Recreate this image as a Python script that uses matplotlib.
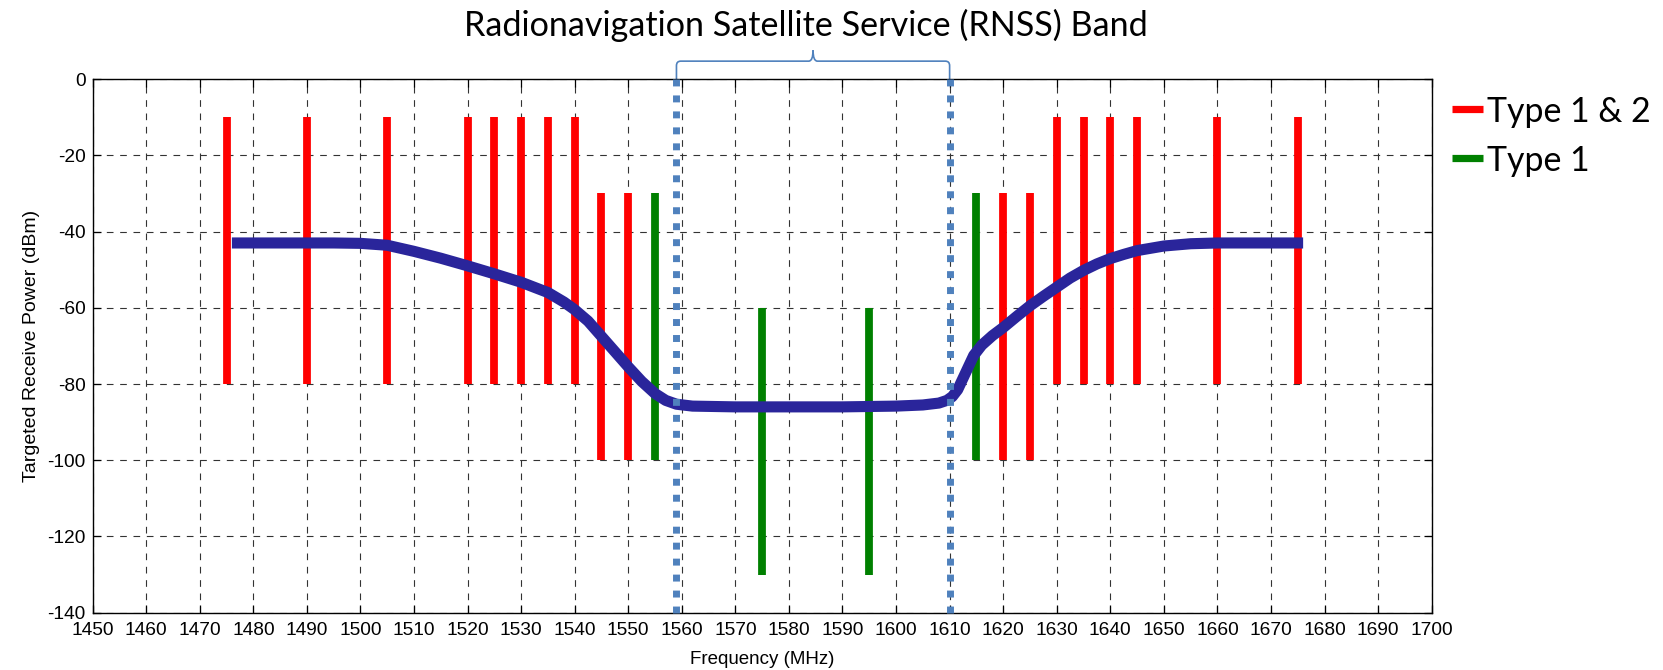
import matplotlib
matplotlib.use('Agg')
import matplotlib.pyplot as plt
from matplotlib.lines import Line2D
from matplotlib.path import Path
from matplotlib.patches import PathPatch

plt.rcParams['axes.unicode_minus'] = False

# signal frequencies (MHz) and their power ranges (dBm)
red_tall = [1475, 1490, 1505, 1520, 1525, 1530, 1535, 1540, 1630, 1635, 1640, 1645, 1660, 1675]
red_tall_range = (-80, -10)
red_low = [1545, 1550, 1620, 1625]
red_low_range = (-100, -30)
green_mid = [1555, 1615]
green_mid_range = (-100, -30)
green_low = [1575, 1595]
green_low_range = (-130, -60)

# targeted receive power curve
curve_f = [1476, 1485, 1495, 1500, 1505, 1510, 1515, 1520, 1525, 1530, 1535, 1538, 1540,
           1542.5, 1545, 1547.5, 1550, 1552.5, 1555, 1557, 1559, 1562, 1570, 1580, 1590,
           1600, 1605, 1608, 1609.5, 1610.5, 1611.5, 1612.5, 1613.5, 1614.5, 1616, 1618,
           1620, 1622.5, 1625, 1627.5, 1630, 1632.5, 1635, 1637.5, 1640, 1642.5, 1645,
           1650, 1655, 1660, 1670, 1676]
curve_p = [-43, -43, -43, -43.1, -43.6, -45.2, -47, -49, -51.1, -53.3, -56, -58.5, -60.5,
           -63.5, -67.5, -71.5, -75.5, -79.3, -82.5, -84.3, -85.3, -85.8, -86, -86, -86,
           -85.8, -85.5, -85, -84.3, -83.3, -81.5, -78.5, -75.5, -72.5, -69.8, -67.3,
           -65.2, -62.3, -59.5, -57, -54.6, -52.2, -50.2, -48.5, -47.1, -46, -45,
           -43.8, -43.2, -43, -43, -43]

band_edges = [1559, 1610]
xticks = list(range(1450, 1701, 10))
yticks = list(range(-140, 1, 20))

RED = '#ff0000'
GREEN = '#008000'
NAVY = '#2a259b'
LBLUE = '#4f81bd'

fig = plt.figure(figsize=(16.63, 6.70), dpi=100)
ax = fig.add_axes([0.0557, 0.0855, 0.8052, 0.7965])

ax.vlines(red_tall, *red_tall_range, colors=RED, lw=5.6, zorder=3)
ax.vlines(red_low, *red_low_range, colors=RED, lw=5.6, zorder=3)
ax.vlines(green_mid, *green_mid_range, colors=GREEN, lw=5.6, zorder=3)
ax.vlines(green_low, *green_low_range, colors=GREEN, lw=5.6, zorder=3)

ax.plot(curve_f, curve_p, color=NAVY, lw=8, solid_capstyle='butt',
        solid_joinstyle='round', zorder=4)

for e in band_edges:
    ax.plot([e, e], [-140, 0], color=LBLUE, lw=5, linestyle=(0, (1, 1.3)),
            dash_capstyle='butt', zorder=5, clip_on=False)

# curly brace over the RNSS band
l, r = band_edges
m = (l + r) / 2.0
h, tip = 4.7, 7.6
codes = [Path.MOVETO, Path.LINETO, Path.CURVE3, Path.CURVE3, Path.LINETO, Path.CURVE3, Path.CURVE3]
left_half = [(l, 0), (l, h - 1.2), (l, h), (l + 0.8, h), (m - 0.8, h), (m, h), (m, tip)]
right_half = [(r, 0), (r, h - 1.2), (r, h), (r - 0.8, h), (m + 0.8, h), (m, h), (m, tip)]
for v in (left_half, right_half):
    ax.add_patch(PathPatch(Path(v, codes), fill=False, edgecolor=LBLUE, lw=1.2, clip_on=False))

ax.set_xlim(1450, 1700)
ax.set_ylim(-140, 0)
ax.set_xticks(xticks)
ax.set_yticks(yticks)
ax.grid(True, color='#333333', linestyle=(0, (6, 6)), lw=0.8)
ax.tick_params(direction='in', length=6, width=0.9, labelsize=13.8,
               top=True, right=True, labelfontfamily='Liberation Sans')
ax.tick_params(axis='x', pad=7)
ax.tick_params(axis='y', pad=5)
for s in ax.spines.values():
    s.set_linewidth(1.0)
ax.set_xlabel('Frequency (MHz)', fontsize=13.5, fontfamily='Liberation Sans', labelpad=8)
ax.set_ylabel('Targeted Receive Power (dBm)', fontsize=14, fontfamily='Liberation Sans',
              labelpad=5)

fig.text(0.4847, 1 - 36 / 670., 'Radionavigation Satellite Service (RNSS) Band',
         ha='center', va='baseline', fontsize=24.6, fontfamily='Lato')

# legend
W, H = 1663., 670.
for y, c, t in [(109, RED, 'Type 1 & 2'), (158, GREEN, 'Type 1')]:
    fig.add_artist(Line2D([1452 / W, 1483 / W], [1 - y / H, 1 - y / H], color=c, lw=5.2,
                          solid_capstyle='butt'))
    fig.text(1487 / W, 1 - y / H, t, ha='left', va='center_baseline', fontsize=24.4,
             fontfamily='Lato')

fig.savefig('out.png', dpi=100)
